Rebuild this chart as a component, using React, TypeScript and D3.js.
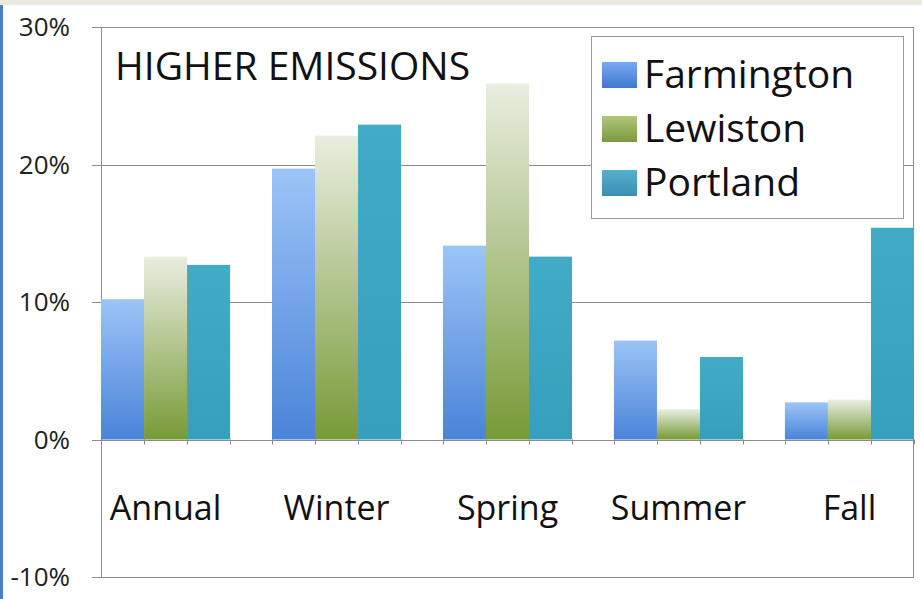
import React from "react";
import * as d3 from "d3";

const categories = ["Annual", "Winter", "Spring", "Summer", "Fall"];
const seriesNames = ["Farmington", "Lewiston", "Portland"];
const farmington = [10.2, 19.7, 14.1, 7.2, 2.7];
const lewiston = [13.3, 22.1, 25.9, 2.2, 2.9];
const portland = [12.7, 22.9, 13.3, 6.0, 15.4];
const yTicks = [-10, 0, 10, 20, 30];
const yTickLabels = ["-10%", "0%", "10%", "20%", "30%"];
const title = "HIGHER EMISSIONS";

const seriesValues = [farmington, lewiston, portland];

const W = 922;
const H = 599;
const plotLeft = 101;
const plotRight = 913;
const plotTop = 27;
const plotBottom = 577;
const FONT = "'Open Sans', 'DejaVu Sans', sans-serif";

const barGrad = [
  ["#9cc4f7", "#4a84d8"],
  ["#e9eee0", "#789a37"],
  ["#42abc6", "#369fbb"],
];
const swatchGrad = [
  ["#79aaf0", "#3f78cf"],
  ["#b1c679", "#7c9a40"],
  ["#54b0cd", "#3a8fb1"],
];

export default function App() {
  const x0 = d3
    .scaleBand<string>()
    .domain(categories)
    .range([plotLeft, plotRight + 1])
    .paddingInner(0.245)
    .paddingOuter(0);
  const x1 = d3
    .scaleBand<string>()
    .domain(seriesNames)
    .range([0, x0.bandwidth()])
    .padding(0);
  const y = d3.scaleLinear().domain([-10, 30]).range([plotBottom, plotTop]);
  const gridColor = "#8c8c8c";

  const xTickPositions: number[] = [];
  categories.forEach((c) => {
    seriesNames.forEach((s, i) => {
      xTickPositions.push((x0(c) ?? 0) + (x1(s) ?? 0));
    });
    xTickPositions.push((x0(c) ?? 0) + x0.bandwidth());
  });

  return (
    <div style={{ position: "fixed", left: 0, top: 0 }}>
      <svg width={W} height={H} style={{ display: "block", background: "#fff" }}>
        <defs>
          {barGrad.map((g, i) => (
            <linearGradient key={i} id={`bar${i}`} x1="0" y1="0" x2="0" y2="1">
              <stop offset="0" stopColor={g[0]} />
              <stop offset="1" stopColor={g[1]} />
            </linearGradient>
          ))}
          {swatchGrad.map((g, i) => (
            <linearGradient key={i} id={`sw${i}`} x1="0" y1="0" x2="0" y2="1">
              <stop offset="0" stopColor={g[0]} />
              <stop offset="1" stopColor={g[1]} />
            </linearGradient>
          ))}
        </defs>
        <rect x={0} y={0} width={W} height={H} fill="#ffffff" />
        <rect x={0} y={0} width={W} height={5} fill="#ecEAe0" />
        <rect x={0} y={5} width={3} height={H - 5} fill="#4a7fc8" />

        {/* gridlines */}
        {yTicks.map((t) => (
          <line
            key={`g${t}`}
            x1={plotLeft - 9}
            x2={t === -10 || t === 30 ? plotRight : plotRight}
            y1={Math.round(y(t)) + 0.5}
            y2={Math.round(y(t)) + 0.5}
            stroke={gridColor}
            strokeWidth={1}
          />
        ))}
        <line x1={plotLeft + 0.5} x2={plotLeft + 0.5} y1={plotTop} y2={plotBottom} stroke={gridColor} />
        <line x1={plotRight + 0.5} x2={plotRight + 0.5} y1={plotTop} y2={plotBottom + 1} stroke={gridColor} />

        {/* x ticks */}
        {xTickPositions.map((p, i) => (
          <line
            key={`xt${i}`}
            x1={Math.round(p) + 0.5}
            x2={Math.round(p) + 0.5}
            y1={y(0)}
            y2={y(0) + 5}
            stroke={gridColor}
          />
        ))}

        {/* bars */}
        {categories.map((c, ci) => (
          <g key={c}>
            {seriesNames.map((s, si) => {
              const v = seriesValues[si][ci];
              const bx = (x0(c) ?? 0) + (x1(s) ?? 0);
              return (
                <rect
                  key={s}
                  x={bx}
                  y={y(Math.max(0, v))}
                  width={x1.bandwidth()}
                  height={Math.abs(y(v) - y(0))}
                  fill={`url(#bar${si})`}
                />
              );
            })}
          </g>
        ))}

        {/* y tick labels */}
        {yTicks.map((t, i) => (
          <text
            key={`yl${t}`}
            x={70}
            y={y(t) + 9}
            textAnchor="end"
            fontFamily={FONT}
            fontSize={26}
            fill="#222"
          >
            {yTickLabels[i]}
          </text>
        ))}

        {/* category labels */}
        {categories.map((c) => (
          <text
            key={`cl${c}`}
            x={(x0(c) ?? 0) + x0.bandwidth() / 2}
            y={520}
            textAnchor="middle"
            fontFamily={FONT}
            fontSize={34}
            fill="#111"
          >
            {c}
          </text>
        ))}

        {/* title */}
        <text x={115} y={80} fontFamily={FONT} fontSize={39} fill="#111">
          {title}
        </text>

        {/* legend */}
        <rect x={591.5} y={36.5} width={312} height={182} fill="#fff" stroke="#9a9a9a" />
        {seriesNames.map((s, i) => (
          <g key={`lg${s}`}>
            <rect x={602} y={62 + i * 54} width={35} height={26} fill={`url(#sw${i})`} />
            <text x={644} y={88 + i * 54} fontFamily={FONT} fontSize={39} fill="#111">
              {s}
            </text>
          </g>
        ))}
      </svg>
    </div>
  );
}
